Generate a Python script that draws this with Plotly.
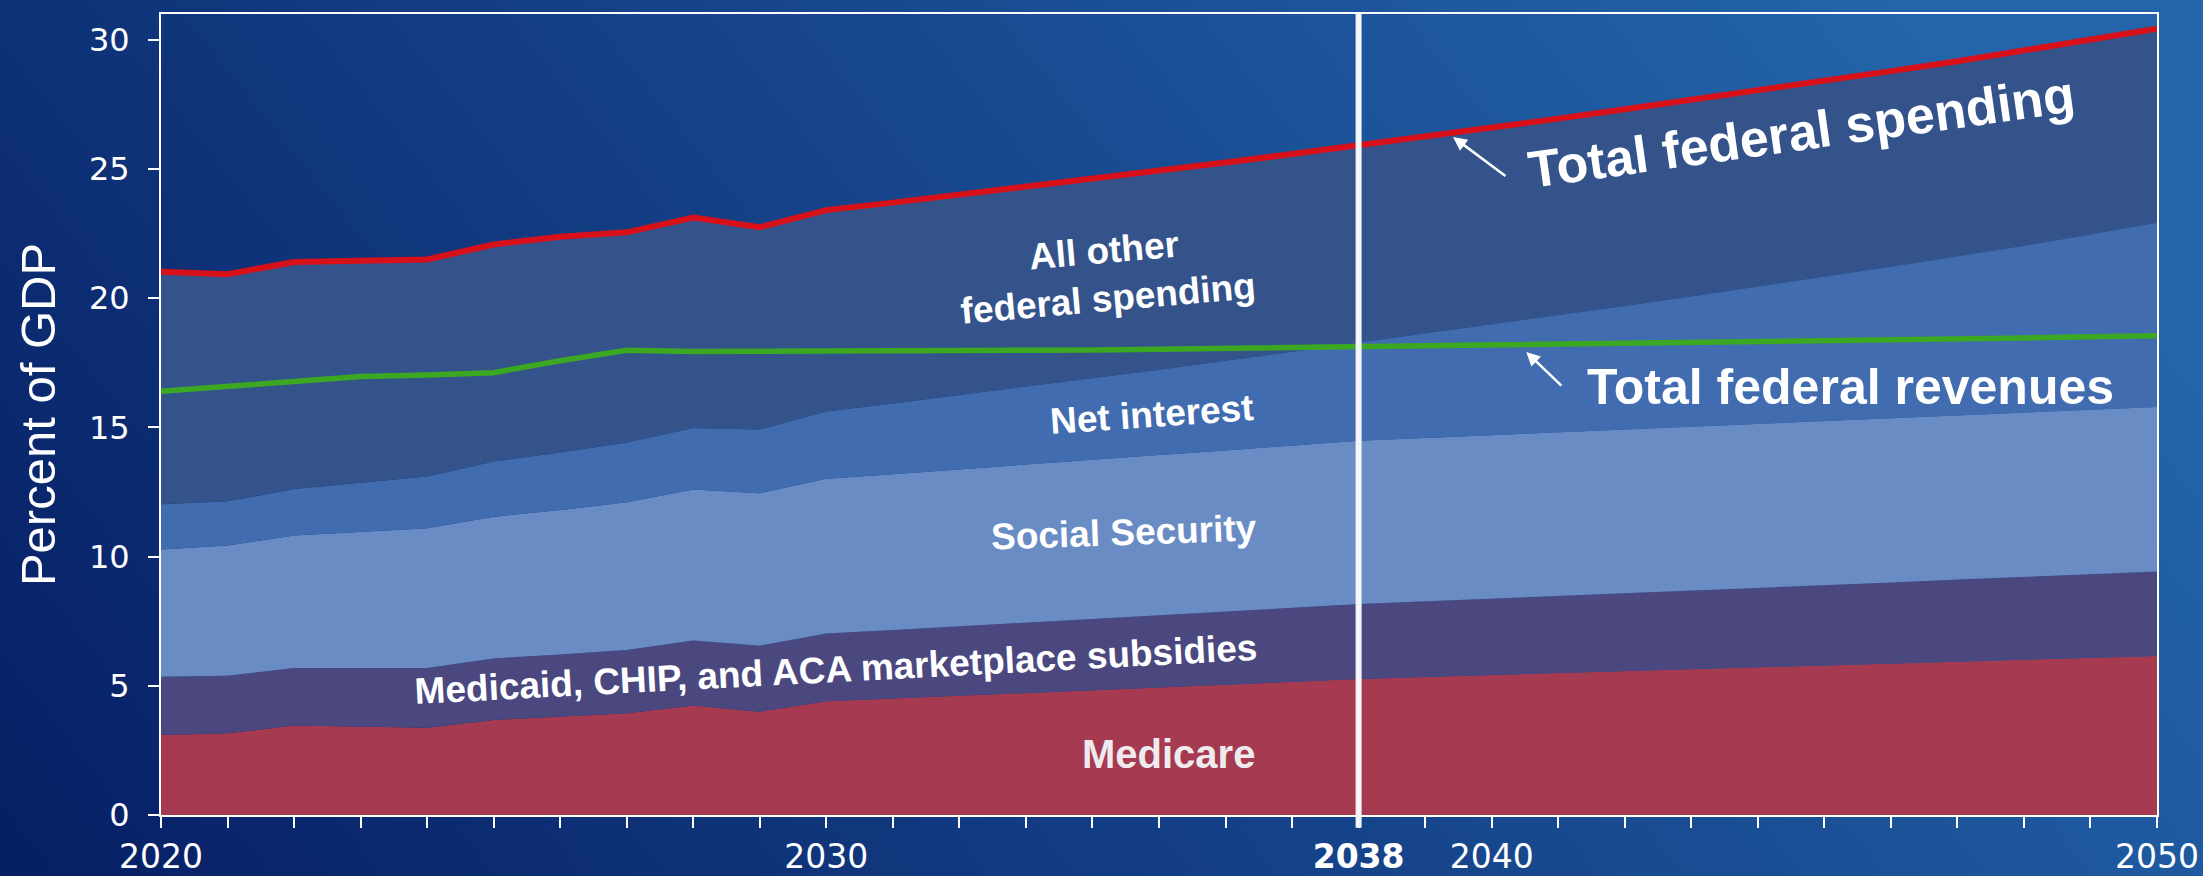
import base64
import plotly.graph_objects as go

# ---------------- data (percent of GDP) ----------------
years = list(range(2020, 2051))

medicare = [3.10, 3.16, 3.46, 3.42, 3.38, 3.68, 3.80, 3.94, 4.24, 4.00, 4.40,
            4.51, 4.61, 4.72, 4.83, 4.94, 5.04, 5.15, 5.26,
            5.34, 5.42, 5.49, 5.57, 5.65, 5.72, 5.79, 5.86, 5.93, 6.00, 6.08, 6.15]

medicaid_chip_aca = [2.25, 2.23, 2.23, 2.27, 2.31, 2.38, 2.41, 2.45, 2.51, 2.55, 2.62,
                     2.65, 2.69, 2.73, 2.76, 2.79, 2.84, 2.87, 2.91,
                     2.93, 2.96, 2.99, 3.02, 3.04, 3.07, 3.11, 3.14, 3.18, 3.21, 3.24, 3.27]

social_security = [4.93, 5.04, 5.13, 5.28, 5.41, 5.48, 5.59, 5.71, 5.85, 5.90, 5.99,
                   6.03, 6.08, 6.11, 6.16, 6.20, 6.23, 6.28, 6.31,
                   6.32, 6.32, 6.33, 6.33, 6.34, 6.35, 6.35, 6.35, 6.35, 6.36, 6.36, 6.37]

net_interest = [1.75, 1.71, 1.80, 1.89, 2.00, 2.14, 2.23, 2.32, 2.38, 2.47, 2.61,
                2.74, 2.87, 3.01, 3.15, 3.30, 3.47, 3.63, 3.81,
                4.04, 4.28, 4.52, 4.78, 5.04, 5.31, 5.58, 5.87, 6.16, 6.46, 6.79, 7.13]

all_other = [8.99, 8.79, 8.78, 8.59, 8.40, 8.40, 8.35, 8.13, 8.14, 7.83, 7.79,
             7.77, 7.75, 7.73, 7.71, 7.70, 7.67, 7.65, 7.62,
             7.62, 7.62, 7.62, 7.61, 7.60, 7.59, 7.58, 7.57, 7.55, 7.55, 7.53, 7.51]

total_spending = [21.02, 20.93, 21.40, 21.45, 21.50, 22.08, 22.38, 22.55, 23.12, 22.75, 23.41,
                  23.70, 24.00, 24.30, 24.61, 24.93, 25.25, 25.58, 25.91,
                  26.25, 26.60, 26.95, 27.31, 27.67, 28.04, 28.41, 28.79, 29.17, 29.58, 30.00, 30.43]

total_revenues = [16.40, 16.58, 16.75, 16.97, 17.03, 17.12, 17.58, 17.99, 17.94, 17.95, 17.92,
                  17.93, 17.95, 17.97, 18.00, 18.03, 18.06, 18.09, 18.12,
                  18.15, 18.18, 18.21, 18.24, 18.28, 18.31, 18.35, 18.38, 18.42, 18.46, 18.51, 18.55]

x_tick_vals = [2020, 2030, 2038, 2040, 2050]
x_tick_text = ["2020", "2030", "<b>2038</b>", "2040", "2050"]
y_tick_vals = [0, 5, 10, 15, 20, 25, 30]

# ---------------- styling ----------------
FONT = "Liberation Sans, Arial, sans-serif"
TICK_FONT = "DejaVu Sans, Verdana, sans-serif"
W, H = 2203, 876

area_series = [
    ("Medicare", medicare, "#a53a51"),
    ("Medicaid, CHIP, and ACA marketplace subsidies", medicaid_chip_aca, "#4b4880"),
    ("Social Security", social_security, "#6a8cc5"),
    ("Net interest", net_interest, "#416caf"),
    ("All other federal spending", all_other, "#33538a"),
]

fig = go.Figure()
for name, vals, col in area_series:
    fig.add_trace(go.Scatter(
        x=years, y=vals, name=name, stackgroup="spend", mode="lines",
        line=dict(width=0, color=col), fillcolor=col, showlegend=False,
    ))

fig.add_trace(go.Scatter(x=years, y=total_revenues, name="Total federal revenues",
                         mode="lines", line=dict(color="#3ca822", width=5.5), showlegend=False))
fig.add_trace(go.Scatter(x=years, y=total_spending, name="Total federal spending",
                         mode="lines", line=dict(color="#d7101a", width=6), showlegend=False))

# background gradient as an inline SVG image
svg = (
    f"<svg xmlns='http://www.w3.org/2000/svg' width='{W}' height='{H}' viewBox='0 0 {W} {H}' preserveAspectRatio='none'>"
    "<defs><linearGradient id='g' gradientUnits='userSpaceOnUse' x1='0' y1='876' x2='1582' y2='-388'>"
    "<stop offset='0' stop-color='rgb(6,30,100)'/>"
    "<stop offset='1' stop-color='rgb(35,100,170)'/>"
    "</linearGradient></defs>"
    f"<rect x='0' y='0' width='{W}' height='{H}' fill='url(#g)'/></svg>"
)
src = "data:image/svg+xml;base64," + base64.b64encode(svg.encode()).decode()

ml, mr, mt, mb = 161, 46, 14, 61
pw, ph = W - ml - mr, H - mt - mb
fig.add_layout_image(dict(
    source=src, xref="paper", yref="paper",
    x=-ml / pw, y=1 + mt / ph, sizex=W / pw, sizey=H / ph,
    xanchor="left", yanchor="top", sizing="stretch", layer="below",
))

# 2038 marker line
fig.add_shape(type="line", xref="x", yref="paper", x0=2038, x1=2038, y0=-0.016, y1=1,
              line=dict(color="#f4f6fb", width=6), layer="above")

def label(text, x, y, angle=0, size=37, color="white"):
    fig.add_annotation(x=x, y=y, text=f"<b>{text}</b>", showarrow=False, textangle=angle,
                       font=dict(family=FONT, size=size, color=color),
                       xanchor="center", yanchor="middle")

label("All other<br>federal spending", 2034.2, 20.9, -5)
label("Net interest", 2034.9, 15.5, -4)
label("Social Security", 2034.47, 10.95, -2)
label("Medicaid, CHIP, and ACA marketplace subsidies", 2030.15, 5.65, -3)
label("Medicare", 2035.15, 2.35, 0, 40, "#eeeaee")
label("Total federal spending", 2044.65, 26.45, -8, 52)
label("Total federal revenues", 2045.39, 16.55, 0, 50)

for hx, hy, tx, ty in [(2039.42, 26.24, 2040.23, 24.69), (2040.52, 17.92, 2041.07, 16.56)]:
    fig.add_annotation(x=hx, y=hy, ax=tx, ay=ty, axref="x", ayref="y", text="",
                       showarrow=True, arrowhead=2, arrowsize=1.1, arrowwidth=2.5,
                       arrowcolor="white", standoff=0, startstandoff=0)

fig.update_layout(
    width=W, height=H,
    margin=dict(l=ml, r=mr, t=mt, b=mb, autoexpand=False),
    paper_bgcolor="#0b2a70", plot_bgcolor="rgba(0,0,0,0)",
    font=dict(family=FONT, color="white"),
    showlegend=False,
)
fig.update_xaxes(
    range=[2020, 2050], tickmode="array", tickvals=x_tick_vals, ticktext=x_tick_text,
    ticks="outside", ticklen=11, tickwidth=2, tickcolor="white",
    minor=dict(dtick=1, tick0=2020, ticks="outside", ticklen=11, tickwidth=2, tickcolor="white"),
    showline=True, linecolor="white", linewidth=2, mirror=True, showgrid=False, zeroline=False,
    tickfont=dict(family=TICK_FONT, size=33, color="white"), automargin=False,
)
fig.update_yaxes(
    range=[0, 31], tickmode="array", tickvals=y_tick_vals,
    ticks="outside", ticklen=11, tickwidth=2, tickcolor="white", ticklabelstandoff=12,
    showline=True, linecolor="white", linewidth=2, mirror=True, showgrid=False, zeroline=False,
    tickfont=dict(family=TICK_FONT, size=32, color="white"), automargin=False,
    title=dict(text="Percent of GDP", font=dict(family=FONT, size=49, color="white"), standoff=18),
)

fig.write_html("out.html",
               config={"displayModeBar": False},
               post_script="document.body.style.margin='0';document.body.style.overflow='hidden';")
